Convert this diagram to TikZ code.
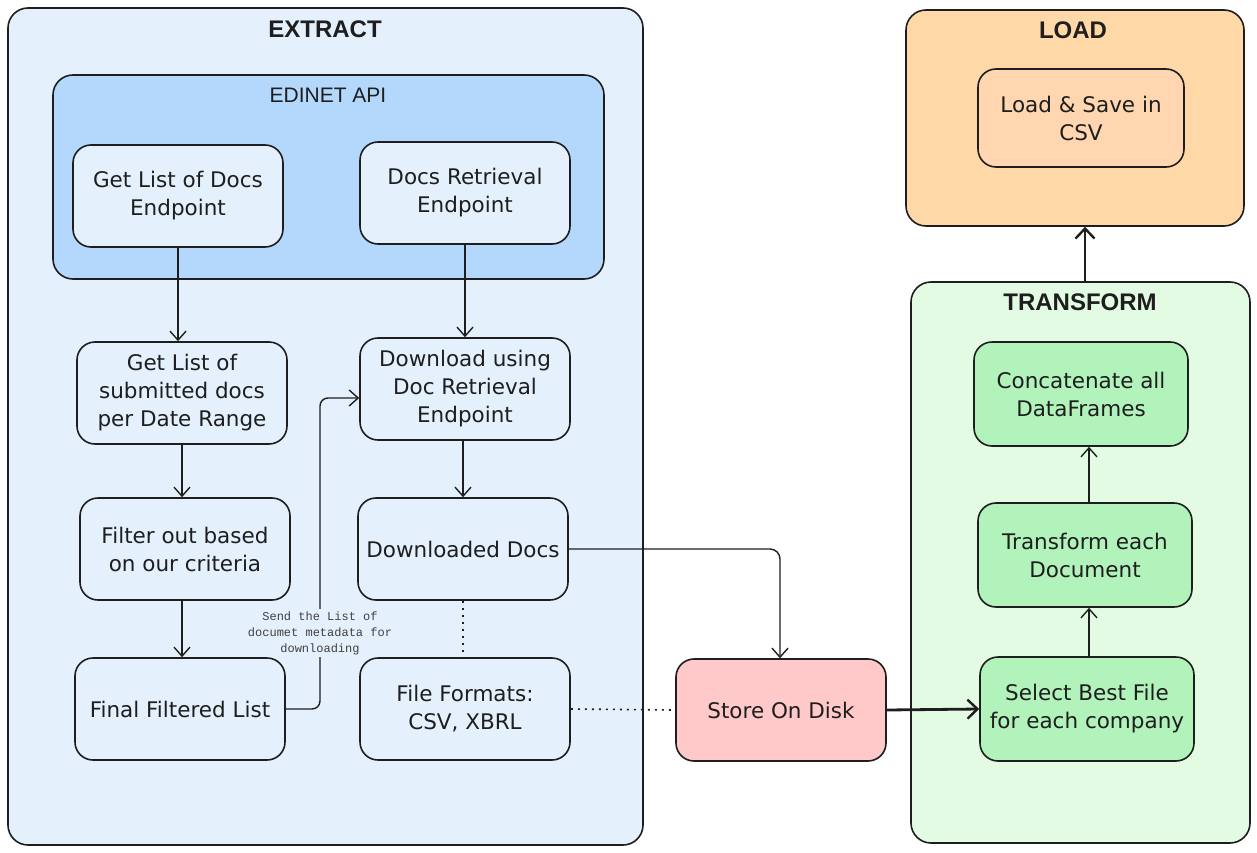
\documentclass[tikz,border=0pt]{standalone}
\usepackage{fontspec}
\setmainfont{DejaVu Sans}
\newfontfamily\titlefont{Liberation Sans}
\newfontfamily\monofont{Liberation Mono}
\usetikzlibrary{arrows.meta}
\definecolor{ink}{HTML}{1E1E1E}
\definecolor{extractbg}{HTML}{E4F1FD}
\definecolor{apibg}{HTML}{B3D8FC}
\definecolor{transbg}{HTML}{E3FBE3}
\definecolor{greenbox}{HTML}{B2F2BB}
\definecolor{loadbg}{HTML}{FFD8A8}
\definecolor{loadbox}{HTML}{FFD6B0}
\definecolor{diskbg}{HTML}{FFC9C9}
\tikzset{
  container/.style={draw=ink, line width=1.6pt, rounded corners=20pt},
  procbox/.style={draw=ink, line width=1.6pt, rounded corners=18pt, minimum width=210pt, minimum height=102pt, align=center, font=\fontsize{21.5}{28}\selectfont, text=ink},
  ttl/.style={font=\titlefont\bfseries\fontsize{24}{28}\selectfont, text=ink},
  conn/.style={draw=ink, line width=1.4pt, -{Straight Barb[length=9pt,width=16pt,line width=1.4pt]}},
  thick conn/.style={draw=ink, line width=2.8pt, -{Straight Barb[length=10pt,width=19pt,line width=2.4pt]}},
  dotconn/.style={draw=ink, line width=1.6pt, dash pattern=on 2pt off 5pt},
}
\begin{document}
\begin{tikzpicture}[x=1pt,y=-1pt]
\useasboundingbox (0,0) rectangle (1257,853);
\fill[white] (0,0) rectangle (1257,853);
% containers
\draw[container, fill=extractbg] (8,8) rectangle (643,845);
\node[ttl] (extractT) at (325,29) {EXTRACT};
\draw[container, fill=apibg] (53,75) rectangle (604,279);
\node[font=\titlefont\fontsize{21}{24}\selectfont, text=ink] (apiT) at (328,95) {EDINET API};
\node[container, fill=loadbg, minimum width=338pt, minimum height=216pt] (load) at (1075,118) {};
\node[ttl] (loadT) at (1073,30) {LOAD};
\node[container, fill=transbg, minimum width=339pt, minimum height=561pt] (transform) at (1080.5,562.5) {};
\node[ttl] (transT) at (1080,302) {TRANSFORM};
% boxes
\node[procbox, fill=extractbg] (getlist) at (178,196) {Get List of Docs\\Endpoint};
\node[procbox, fill=extractbg] (retr) at (465,193) {Docs Retrieval\\Endpoint};
\node[procbox, fill=extractbg] (submitted) at (182,393) {Get List of\\submitted docs\\per Date Range};
\node[procbox, fill=extractbg] (download) at (465,389) {Download using\\Doc Retrieval\\Endpoint};
\node[procbox, fill=extractbg] (filter) at (185,549) {Filter out based\\on our criteria};
\node[procbox, fill=extractbg] (downloaded) at (463,549) {Downloaded Docs};
\node[procbox, fill=extractbg] (final) at (180,709) {Final Filtered List};
\node[procbox, fill=extractbg] (formats) at (465,709) {File Formats:\\CSV, XBRL};
\node[procbox, fill=diskbg] (disk) at (781,710) {Store On Disk};
\node[procbox, fill=greenbox, minimum width=214pt, minimum height=104pt] (concat) at (1081,394) {Concatenate all\\DataFrames};
\node[procbox, fill=greenbox, minimum width=214pt, minimum height=104pt] (transdoc) at (1085,555) {Transform each\\Document};
\node[procbox, fill=greenbox, minimum width=214pt, minimum height=104pt] (select) at (1087,709) {Select Best File\\for each company};
\node[procbox, fill=loadbox, minimum width=206pt, minimum height=98pt] (loadsave) at (1081,118) {Load \& Save in\\CSV};
% connectors
\draw[conn] (getlist.south) -- (getlist.south |- submitted.north);
\draw[conn] (retr.south) -- (retr.south |- download.north);
\draw[conn] (submitted.south) -- (submitted.south |- filter.north);
\draw[conn] (filter.south -| submitted.south) -- (submitted.south |- final.north);
\draw[conn] (download.south -| downloaded.south) -- (downloaded.north);
\coordinate (bend) at (320,398);
\draw[conn, rounded corners=8pt] (final.east) -- (final.east -| bend) -- (bend) -- (bend -| download.west);
\node[font=\monofont\fontsize{12}{16}\selectfont, text=ink!85, align=center, fill=extractbg, inner sep=2pt] (sendlbl) at (320,633) {Send the List of\\documet metadata for\\downloading};
\coordinate (turn) at (780,549);
\draw[conn, rounded corners=10pt] (downloaded.east) -- (turn) -- (turn |- disk.north);
\draw[dotconn] (downloaded.south) -- (downloaded.south |- formats.north);
\draw[dotconn] (formats.east) -- (disk.west);
\draw[thick conn] (disk.east) -- (select.west);
\coordinate (tx) at (1089,0);
\draw[conn] (tx |- select.north) -- (tx |- transdoc.south);
\draw[conn] (tx |- transdoc.north) -- (tx |- concat.south);
\coordinate (lx) at (1085,0);
\draw[thick conn] (lx |- transform.north) -- (lx |- load.south);
\end{tikzpicture}
\end{document}
